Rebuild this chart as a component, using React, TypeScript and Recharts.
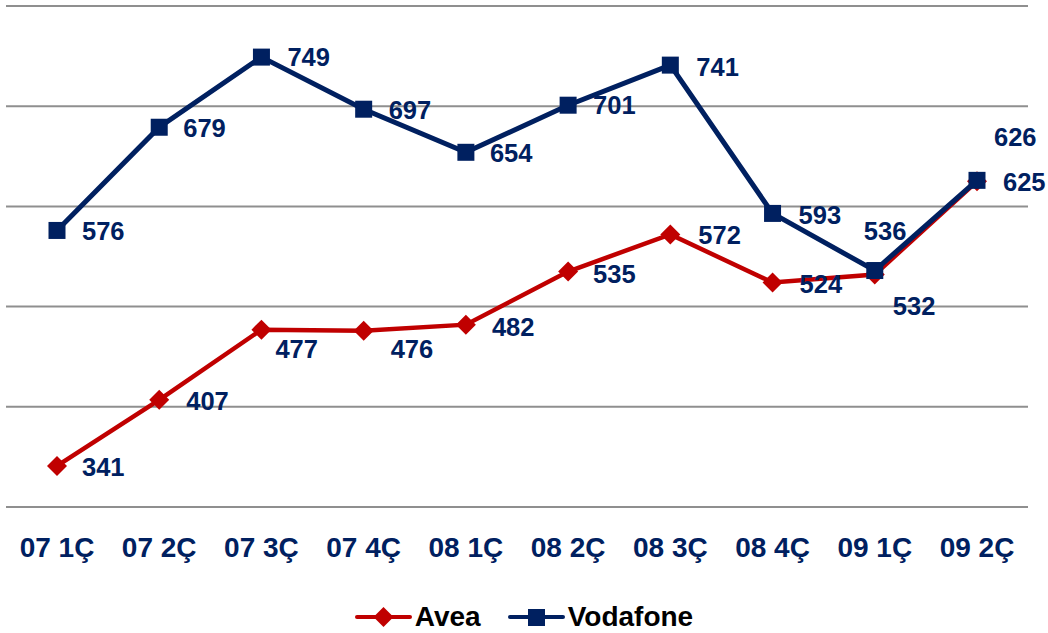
import { LineChart, Line, XAxis, YAxis, CartesianGrid, LabelList, Legend } from 'recharts';

const quarters = ['07 1Ç', '07 2Ç', '07 3Ç', '07 4Ç', '08 1Ç', '08 2Ç', '08 3Ç', '08 4Ç', '09 1Ç', '09 2Ç'];
const avea = [341, 407, 477, 476, 482, 535, 572, 524, 532, 625];
const vodafone = [576, 679, 749, 697, 654, 701, 741, 593, 536, 626];
const yTicks = [300, 400, 500, 600, 700, 800];

const NAVY = '#002060';
const RED = '#c00000';
const FONT = '"Liberation Sans", Arial, sans-serif';

// label placement (dx, dy from the point), picked by eye from the original
const aveaLabelPos = [[25, 1], [27, 1], [14, 19], [27, 18], [26, 2], [25, 2], [28, 1], [27, 1], [18, 31], [26, 1]];
const vodafoneLabelPos = [[25, 1], [24, 1], [26, 0], [25, 1], [24, 1], [25, 0], [26, 2], [26, 2], [-11, -40], [17, -43]];

const data = quarters.map((q, i) => ({ quarter: q, avea: avea[i], vodafone: vodafone[i] }));

function makeLabel(pos: number[][]) {
  return (props: any) => {
    const { x, y, value, index } = props;
    const [dx, dy] = pos[index] || [25, 0];
    return (
      <text
        x={x + dx}
        y={y + dy}
        fill={NAVY}
        fontSize={25.5}
        fontWeight="bold"
        fontFamily={FONT}
        textAnchor="start"
        dominantBaseline="central"
      >
        {value}
      </text>
    );
  };
}

const SquareDot = (props: any) => {
  const { cx, cy, index } = props;
  return <rect key={`sq-${index}`} x={cx - 8.5} y={cy - 8.5} width={17} height={17} fill={NAVY} />;
};

const DiamondDot = (props: any) => {
  const { cx, cy, index } = props;
  const r = 10;
  return (
    <polygon
      key={`dm-${index}`}
      points={`${cx},${cy - r} ${cx + r},${cy} ${cx},${cy + r} ${cx - r},${cy}`}
      fill={RED}
    />
  );
};

function LegendIcon({ color, shape }: { color: string; shape: 'square' | 'diamond' }) {
  return (
    <svg width={57} height={22} style={{ display: 'block' }}>
      <line x1={2} y1={11} x2={55} y2={11} stroke={color} strokeWidth={4} strokeLinecap="round" />
      {shape === 'square' ? (
        <rect x={20} y={3} width={17} height={17} fill={color} />
      ) : (
        <polygon points="28.5,1 38.5,11 28.5,21 18.5,11" fill={color} />
      )}
    </svg>
  );
}

const renderLegend = () => (
  <div
    style={{
      display: 'flex',
      justifyContent: 'center',
      alignItems: 'center',
      fontFamily: FONT,
      fontWeight: 'bold',
      fontSize: 28,
      color: '#000',
    }}
  >
    <div style={{ display: 'flex', alignItems: 'center', marginRight: 27 }}>
      <LegendIcon color={RED} shape="diamond" />
      <span style={{ marginLeft: 3 }}>Avea</span>
    </div>
    <div style={{ display: 'flex', alignItems: 'center' }}>
      <LegendIcon color={NAVY} shape="square" />
      <span style={{ marginLeft: 3 }}>Vodafone</span>
    </div>
  </div>
);

export default function App() {
  return (
    <div style={{ position: 'absolute', left: 0, top: 0, background: '#fff' }}>
      <LineChart width={1048} height={633} data={data} margin={{ top: 6, right: 20, left: 6, bottom: 96 }}>
        <CartesianGrid vertical={false} stroke="#8f8f8f" strokeWidth={2} />
        <XAxis
          dataKey="quarter"
          axisLine={false}
          tickLine={false}
          padding={{ left: 51, right: 51 }}
          interval={0}
          tickMargin={24}
          tick={{ fill: NAVY, fontSize: 28, fontWeight: 'bold', fontFamily: FONT }}
        />
        <YAxis hide domain={[300, 800]} ticks={yTicks} />
        <Legend
          verticalAlign="middle"
          align="center"
          layout="horizontal"
          content={renderLegend}
          wrapperStyle={{ top: 601, left: 0, width: 1048 }}
        />
        <Line
          type="linear"
          dataKey="avea"
          name="Avea"
          stroke={RED}
          strokeWidth={4.5}
          dot={DiamondDot}
          activeDot={false}
          isAnimationActive={false}
        >
          <LabelList dataKey="avea" content={makeLabel(aveaLabelPos)} />
        </Line>
        <Line
          type="linear"
          dataKey="vodafone"
          name="Vodafone"
          stroke={NAVY}
          strokeWidth={5}
          dot={SquareDot}
          activeDot={false}
          isAnimationActive={false}
        >
          <LabelList dataKey="vodafone" content={makeLabel(vodafoneLabelPos)} />
        </Line>
      </LineChart>
    </div>
  );
}
